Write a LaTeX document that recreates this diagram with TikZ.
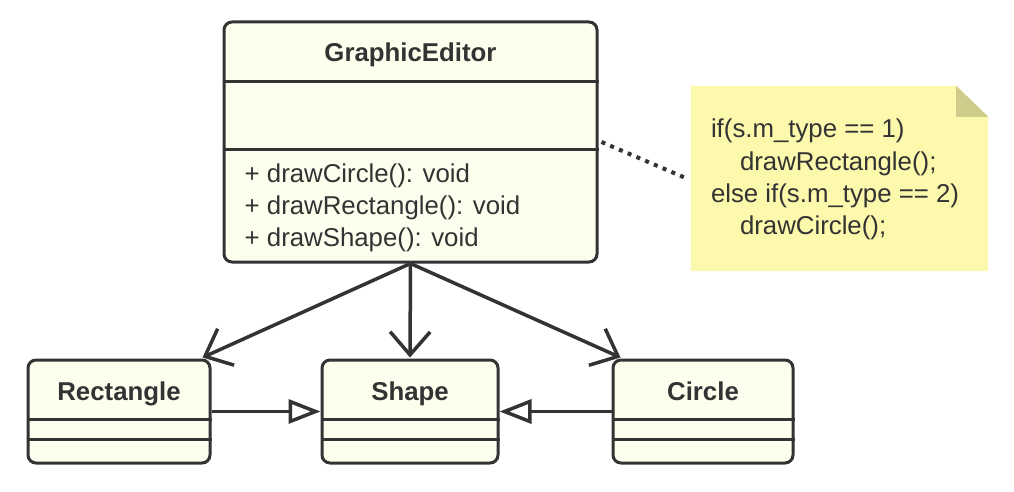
\documentclass[tikz,border=0pt]{standalone}
\usepackage{fontspec}
\setmainfont{Liberation Sans}
\usetikzlibrary{arrows.meta,positioning}
\definecolor{ink}{HTML}{333333}
\definecolor{classfill}{HTML}{FEFEEE}
\definecolor{notefill}{HTML}{FCF8AC}
\definecolor{foldfill}{HTML}{CFCB8A}
\tikzstyle{klass}=[draw=ink, fill=classfill, line width=3pt, rounded corners=8pt,
  inner sep=0pt]
\tikzstyle{klasstitle}=[text=ink, font=\fontsize{25.8}{32}\selectfont\bfseries, inner sep=0pt]
\tikzstyle{member}=[text=ink, font=\fontsize{25.8}{32}\selectfont, inner sep=0pt]
\tikzstyle{sep}=[draw=ink, line width=3pt]
\tikzstyle{assoc}=[draw=ink, line width=3.5pt,
  -{Straight Barb[length=23pt,width=40pt,line width=3.5pt]}]
\tikzstyle{inherit}=[draw=ink, line width=3.5pt,
  -{Triangle[length=32pt,width=24pt,line width=3.5pt,fill=white]}]
\tikzstyle{notelink}=[draw=ink, line width=4pt, dash pattern=on 4pt off 5.5pt]
\newcommand{\klassbox}[5]{%
  \node[klass, minimum width=#3, minimum height=#4] (#1) at (#2) {};
  \node[klasstitle, anchor=base] (#1-t) at ([yshift=-41.5pt]#1.north) {#5};}
\newcommand{\sepline}[2]{%
  \path[sep] ([yshift=-#2]#1.north west) -- ([yshift=-#2]#1.north east);}

\begin{document}
\begin{tikzpicture}[x=1pt,y=-1pt]
  \useasboundingbox (0,0) rectangle (1014,492);

  % Classes
  \klassbox{ge}{410.5,142}{373pt}{240pt}{GraphicEditor}
  \sepline{ge}{61pt}
  \sepline{ge}{129pt}
  \foreach \m [count=\i, evaluate=\i as \dy using 130+32*\i] in
    {drawCircle, drawRectangle, drawShape}
    \node[member, anchor=base west] (ge-m\i)
      at ([xshift=22pt,yshift=-\dy pt]ge.north west) {+ \m(): void};

  \klassbox{rect}{119,411.5}{182pt}{103pt}{Rectangle}
  \klassbox{shape}{410,411.5}{176pt}{103pt}{Shape}
  \klassbox{circ}{703,411.5}{180pt}{103pt}{Circle}
  \foreach \c in {rect,shape,circ} {
    \sepline{\c}{61pt}
    \sepline{\c}{81pt}
  }

  % Note
  \node[minimum width=297pt, minimum height=185pt, inner sep=0pt] (note)
    at (839.5,178.5) {};
  \fill[notefill] (note.south west) -- (note.north west)
    -- ([xshift=-32pt]note.north east) -- ([yshift=-31pt]note.north east)
    -- (note.south east) -- cycle;
  \fill[foldfill] ([xshift=-32pt]note.north east)
    -- ([xshift=-32pt,yshift=-31pt]note.north east)
    -- ([yshift=-31pt]note.north east) -- cycle;
  \node[member, anchor=base west] (note-l1)
    at ([xshift=20pt,yshift=-52pt]note.north west) {if(s.m\_type == 1)};
  \node[member, anchor=base west] (note-l2)
    at ([xshift=49pt,yshift=-85pt]note.north west) {drawRectangle();};
  \node[member, anchor=base west] (note-l3)
    at ([xshift=20pt,yshift=-117pt]note.north west) {else if(s.m\_type == 2)};
  \node[member, anchor=base west] (note-l4)
    at ([xshift=49pt,yshift=-149pt]note.north west) {drawCircle();};

  % Connectors
  \path[notelink] ([xshift=3pt]ge.east) -- ([xshift=-4pt]note.west);
  \path[assoc] (ge.south) -- ([xshift=-9pt,yshift=1pt]rect.north east);
  \path[assoc] (ge.south) -- ([yshift=1pt]shape.north);
  \path[assoc] (ge.south) -- ([xshift=9pt,yshift=1pt]circ.north west);
  \path[inherit] (rect.east) -- (shape.west);
  \path[inherit] (circ.west) -- (shape.east);
\end{tikzpicture}
\end{document}
